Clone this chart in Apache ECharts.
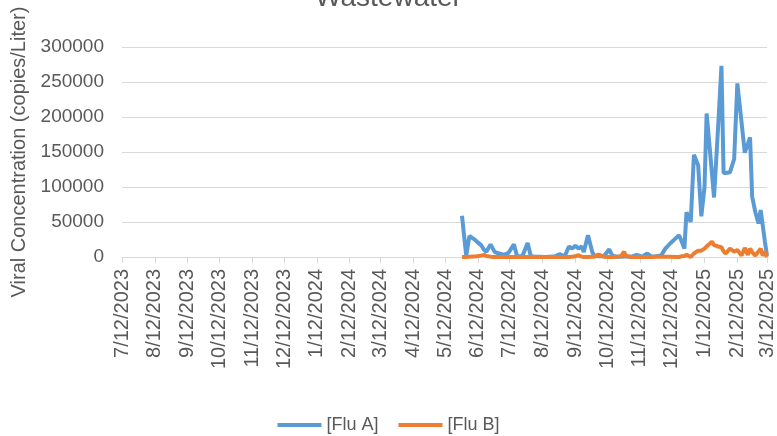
<!DOCTYPE html>
<html>
<head>
<meta charset="utf-8">
<title>Wastewater</title>
<script src="https://cdn.jsdelivr.net/npm/echarts@6/dist/echarts.min.js"></script>
<style>
  html, body { margin: 0; padding: 0; background: #fff; }
  #main { width: 777px; height: 436px; }
</style>
</head>
<body>
<div id="main"></div>
<script type="text/javascript">
// sample dates
var dates = [
  '2024-05-28', '2024-06-01', '2024-06-04', '2024-06-08', '2024-06-11', '2024-06-15', '2024-06-18', '2024-06-20',
  '2024-06-24', '2024-06-28', '2024-07-02', '2024-07-07', '2024-07-11', '2024-07-16', '2024-07-19', '2024-07-24',
  '2024-07-29', '2024-08-01', '2024-08-05', '2024-08-10', '2024-08-14', '2024-08-19', '2024-08-24', '2024-08-28',
  '2024-09-02', '2024-09-06', '2024-09-09', '2024-09-12', '2024-09-15', '2024-09-18', '2024-09-20', '2024-09-24',
  '2024-09-28', '2024-09-30', '2024-10-04', '2024-10-09', '2024-10-14', '2024-10-17', '2024-10-21', '2024-10-25',
  '2024-10-28', '2024-10-30', '2024-11-04', '2024-11-09', '2024-11-14', '2024-11-19', '2024-11-23', '2024-11-27',
  '2024-12-02', '2024-12-06', '2024-12-11', '2024-12-16', '2024-12-19', '2024-12-21', '2024-12-24', '2024-12-26',
  '2024-12-30', '2025-01-02', '2025-01-06', '2025-01-09', '2025-01-12', '2025-01-14', '2025-01-19', '2025-01-21',
  '2025-01-25', '2025-01-28', '2025-01-30', '2025-02-01', '2025-02-05', '2025-02-09', '2025-02-12', '2025-02-16',
  '2025-02-19', '2025-02-22', '2025-02-24', '2025-02-26', '2025-03-01', '2025-03-04', '2025-03-06', '2025-03-08',
  '2025-03-10', '2025-03-12'
];
// [Flu A]
var fluA = [
  59000, 2000, 30000, 26000, 22000, 17000, 10000, 7500,
  18000, 7000, 5000, 3000, 6000, 18000, 1500, 1000,
  20000, 1000, 500, 500, 0, 500, 1000, 4000,
  1000, 15000, 12000, 16000, 12000, 15000, 7000, 31000,
  7000, 2000, 1000, 1000, 11000, 2000, 500, 500,
  800, 1000, 500, 3000, 500, 5000, 500, 1000,
  2000, 12000, 20000, 27000, 31000, 24000, 12000, 64000,
  50000, 146000, 131000, 58000, 100000, 205000, 120000, 85000,
  190000, 273000, 120000, 120000, 121000, 140000, 248000, 192000,
  149000, 162000, 171000, 86000, 64000, 48000, 67000, 45000,
  22000, 2000
];
// [Flu B]
var fluB = [
  0, 0, 500, 800, 1000, 2000, 3000, 1500,
  500, 0, 0, 0, 0, 0, 0, 0,
  0, 0, 0, 0, 0, 0, 0, 0,
  0, 0, 500, 1000, 2500, 500, 0, 0,
  500, 500, 3500, 500, 0, 0, 500, 1000,
  7500, 1000, 0, 0, 0, 0, 0, 500,
  500, 500, 500, 0, 0, 1000, 1500, 3000,
  0, 5000, 9000, 9000, 12000, 15000, 22000, 17000,
  15000, 14000, 8000, 5000, 12000, 7500, 10000, 2000,
  13000, 3000, 12000, 7000, 2000, 8000, 12000, 2000,
  8000, 0
];
// x axis tick labels
var tickLabels = [
  '7/12/2023', '8/12/2023', '9/12/2023', '10/12/2023', '11/12/2023', '12/12/2023',
  '1/12/2024', '2/12/2024', '3/12/2024', '4/12/2024', '5/12/2024', '6/12/2024',
  '7/12/2024', '8/12/2024', '9/12/2024', '10/12/2024', '11/12/2024', '12/12/2024',
  '1/12/2025', '2/12/2025', '3/12/2025'
];

// day numbers counted from the first tick label
var DAY = 86400000;
var t0 = Date.UTC(2023, 6, 12);
function labelDay(label) {
  var p = label.split('/');
  return Math.round((Date.UTC(+p[2], +p[0] - 1, +p[1]) - t0) / DAY);
}
function dateDay(s) {
  var p = s.split('-');
  return Math.round((Date.UTC(+p[0], +p[1] - 1, +p[2]) - t0) / DAY);
}
function pairs(values) {
  return values.map(function (v, i) { return [dateDay(dates[i]), v]; });
}
var tickDays = tickLabels.map(labelDay);
var font = '"Liberation Sans", Arial, sans-serif';
var gray = '#595959';

var myChart = echarts.init(document.getElementById('main'));
var option = {
  animation: false,
  title: {
    text: 'Wastewater',
    left: 'center',
    top: -21,
    textStyle: { fontFamily: font, fontSize: 28, fontWeight: 'normal', color: gray }
  },
  legend: {
    bottom: -3,
    left: 'center',
    itemWidth: 44,
    itemHeight: 4,
    itemGap: 20,
    icon: 'rect',
    textStyle: { fontFamily: font, fontSize: 18, color: gray },
    data: ['[Flu A]', '[Flu B]']
  },
  grid: { left: 122, right: 9, top: 47, bottom: 179 },
  xAxis: {
    type: 'value',
    min: 0,
    max: tickDays[tickDays.length - 1],
    axisLine: { show: true, lineStyle: { color: '#D9D9D9', width: 1 } },
    axisTick: { show: true, length: 6, customValues: tickDays, lineStyle: { color: '#D9D9D9' } },
    splitLine: { show: false },
    axisLabel: {
      customValues: tickDays,
      rotate: 90,
      margin: 12,
      fontFamily: font,
      fontSize: 20,
      color: gray,
      formatter: function (v) {
        return tickLabels[tickDays.indexOf(v)] || '';
      }
    }
  },
  yAxis: {
    type: 'value',
    min: 0,
    max: 300000,
    interval: 50000,
    name: 'Viral Concentration (copies/Liter)',
    nameLocation: 'middle',
    nameGap: 88,
    nameTextStyle: { fontFamily: font, fontSize: 20, color: gray },
    axisLine: { show: false },
    axisTick: { show: false },
    splitLine: { lineStyle: { color: '#D9D9D9', width: 1 } },
    axisLabel: {
      fontFamily: font, fontSize: 19, color: gray, margin: 18,
      formatter: function (v) { return String(v); }
    }
  },
  series: [
    {
      name: '[Flu A]',
      type: 'line',
      showSymbol: false,
      color: '#5B9BD5',
      lineStyle: { width: 4 },
      data: pairs(fluA)
    },
    {
      name: '[Flu B]',
      type: 'line',
      showSymbol: false,
      color: '#ED7D31',
      lineStyle: { width: 4 },
      data: pairs(fluB)
    }
  ]
};
myChart.setOption(option);
</script>
</body>
</html>
